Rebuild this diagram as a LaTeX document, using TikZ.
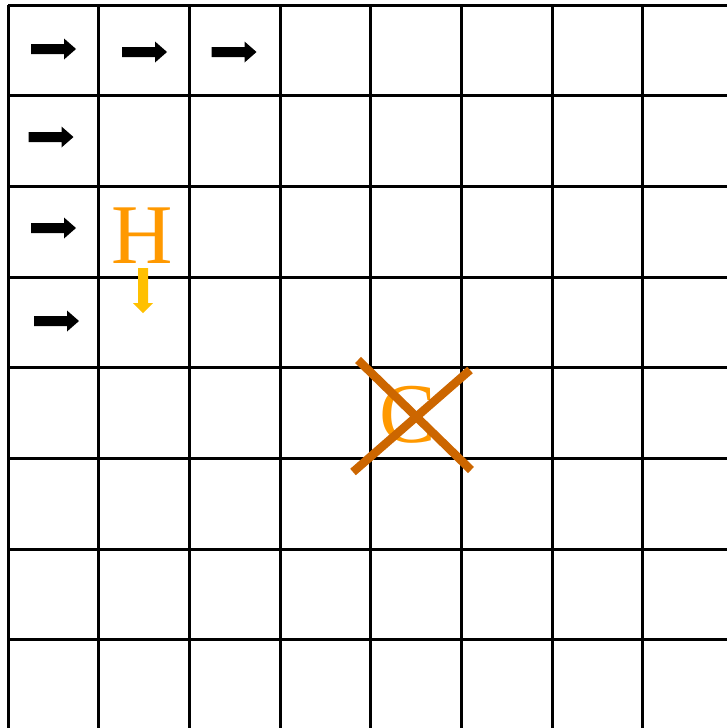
\documentclass[tikz,border=0pt]{standalone}
\usepackage{fontspec}
\setmainfont{Liberation Serif}
\definecolor{gridc}{HTML}{000000}
\definecolor{letterc}{HTML}{FF9900}
\definecolor{crossc}{HTML}{CC6600}
\definecolor{downc}{HTML}{FFC000}
\tikzset{
  gridline/.style={draw=gridc, line width=3pt},
  letter/.style={text=letterc, font=\fontsize{85}{85}\selectfont, inner sep=0pt, anchor=base},
  crossline/.style={draw=crossc, line width=8.5pt},
  rarrow/.pic={\fill[black] (-22.5,-5) -- (10.5,-5) -- (10.5,-10.5) -- (22.5,0) -- (10.5,10.5) -- (10.5,5) -- (-22.5,5) -- cycle;},
  darrow/.pic={\fill[downc] (-5,0) -- (5,0) -- (5,35) -- (10,35) -- (0,45) -- (-10,35) -- (-5,35) -- cycle;}
}
\begin{document}
\begin{tikzpicture}[x=1pt,y=-1pt]
\useasboundingbox (0,0) rectangle (726,728);
\fill[white] (0,0) rectangle (726,728);
% grid
\foreach \i in {0,...,7} {
  \draw[gridline] ({8+90.7*\i},5) -- ({8+90.7*\i},730);
  \draw[gridline] (8,{5+90.7*\i}) -- (730,{5+90.7*\i});
}
% right arrows
\pic at (53.5,49) {rarrow};
\pic at (144.5,52) {rarrow};
\pic at (234,52) {rarrow};
\pic at (51,137) {rarrow};
\pic at (53.5,228) {rarrow};
\pic at (56.5,321) {rarrow};
% H and down arrow
\node[letter] (H) at (142,263) {H};
\pic at (143,268) {darrow};
% C and cross
\node[letter] (C) at (408,442) {C};
\coordinate (x1a) at (358,360);
\coordinate (x1b) at (471,470);
\coordinate (x2a) at (470,370);
\coordinate (x2b) at (353,472);
\draw[crossline] (x1a) -- (x1b);
\draw[crossline] (x2a) -- (x2b);
\end{tikzpicture}
\end{document}
